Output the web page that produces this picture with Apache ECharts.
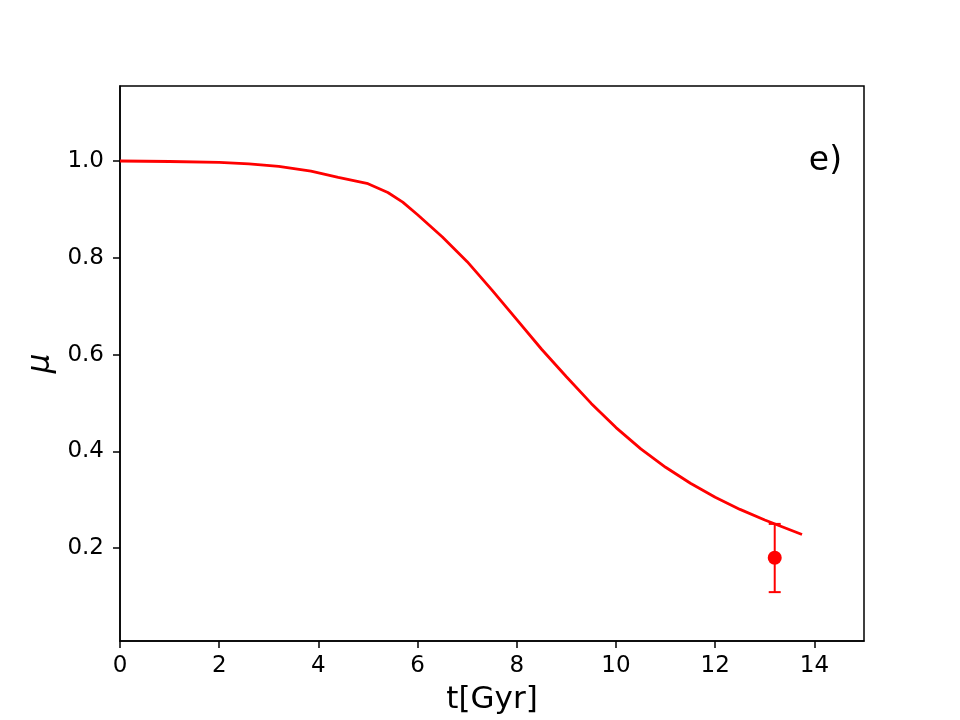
<!DOCTYPE html>
<html>
<head>
<meta charset="utf-8">
<script src="https://cdn.jsdelivr.net/npm/echarts@6/dist/echarts.min.js"></script>
<style>
  html, body { margin: 0; padding: 0; background: #fff; }
  #main { width: 960px; height: 720px; }
</style>
</head>
<body>
<div id="main"></div>
<script>
// model curve mu(t)
var tGyr = [0, 1, 2, 2.6, 3.2, 3.85, 4.4, 5.0, 5.4, 5.7, 6.0, 6.5, 7.0, 7.5, 8.0, 8.5, 9.0, 9.5, 10.0, 10.5, 11.0, 11.5, 12.0, 12.5, 13.0, 13.4, 13.75];
var mu   = [1.0, 0.999, 0.997, 0.994, 0.989, 0.979, 0.966, 0.953, 0.935, 0.915, 0.889, 0.843, 0.792, 0.733, 0.672, 0.611, 0.554, 0.499, 0.449, 0.405, 0.367, 0.334, 0.305, 0.28, 0.258, 0.242, 0.228];

// observed point with error bar
var obsT = [13.2];
var obsMu = [0.18];
var obsLow = [0.109];
var obsHigh = [0.25];

var xTicks = [0, 2, 4, 6, 8, 10, 12, 14];
var yTicks = [0.2, 0.4, 0.6, 0.8, 1.0];

var font = 'DejaVu Sans';

var chart = echarts.init(document.getElementById('main'));
chart.setOption({
  animation: false,
  backgroundColor: '#fff',
  grid: { left: 120, right: 96, top: 86, bottom: 79, show: true, borderColor: '#000', borderWidth: 1.5, backgroundColor: 'transparent' },
  graphic: [{
    type: 'text', x: 842, y: 161,
    style: { text: 'e)', font: '33px "DejaVu Sans"', fill: '#000', textAlign: 'right', textVerticalAlign: 'middle' }
  }],
  xAxis: {
    type: 'value', min: 0, max: 15,
    name: 't[Gyr]', nameLocation: 'middle', nameGap: 43,
    nameTextStyle: { fontFamily: font, fontSize: 31, color: '#000' },
    axisLine: { show: true, lineStyle: { color: '#000', width: 1.5 } },
    axisTick: { show: true, length: 7, lineStyle: { color: '#000', width: 1.5 }, customValues: xTicks },
    axisLabel: { fontFamily: font, fontSize: 23, color: '#000', margin: 14, customValues: xTicks },
    splitLine: { show: false }
  },
  yAxis: {
    type: 'value', min: 0.008, max: 1.155,
    name: 'μ', nameLocation: 'middle', nameGap: 64,
    nameTextStyle: { fontFamily: font, fontSize: 31, fontStyle: 'italic', color: '#000' },
    axisLine: { show: true, lineStyle: { color: '#000', width: 1.5 } },
    axisTick: { show: true, length: 7, lineStyle: { color: '#000', width: 1.5 }, customValues: yTicks },
    axisLabel: { fontFamily: font, fontSize: 23, color: '#000', margin: 16, customValues: yTicks,
      formatter: function (v) { return v.toFixed(1); } },
    splitLine: { show: false }
  },
  series: [
    {
      type: 'line',
      data: tGyr.map(function (t, i) { return [t, mu[i]]; }),
      showSymbol: false,
      lineStyle: { color: '#ff0000', width: 2.8 },
      z: 3
    },
    {
      type: 'custom',
      data: obsT.map(function (t, i) { return [t, obsLow[i], obsHigh[i]]; }),
      renderItem: function (params, api) {
        var lo = api.coord([api.value(0), api.value(1)]);
        var hi = api.coord([api.value(0), api.value(2)]);
        var cap = 6;
        var style = { stroke: '#ff0000', lineWidth: 2 };
        return {
          type: 'group',
          children: [
            { type: 'line', shape: { x1: lo[0], y1: lo[1], x2: hi[0], y2: hi[1] }, style: style },
            { type: 'line', shape: { x1: lo[0] - cap, y1: lo[1], x2: lo[0] + cap, y2: lo[1] }, style: style },
            { type: 'line', shape: { x1: hi[0] - cap, y1: hi[1], x2: hi[0] + cap, y2: hi[1] }, style: style }
          ]
        };
      },
      z: 4
    },
    {
      type: 'scatter',
      data: obsT.map(function (t, i) { return [t, obsMu[i]]; }),
      symbol: 'circle', symbolSize: 14,
      itemStyle: { color: '#ff0000', opacity: 1 },
      z: 5
    }
  ]
});
</script>
</body>
</html>
